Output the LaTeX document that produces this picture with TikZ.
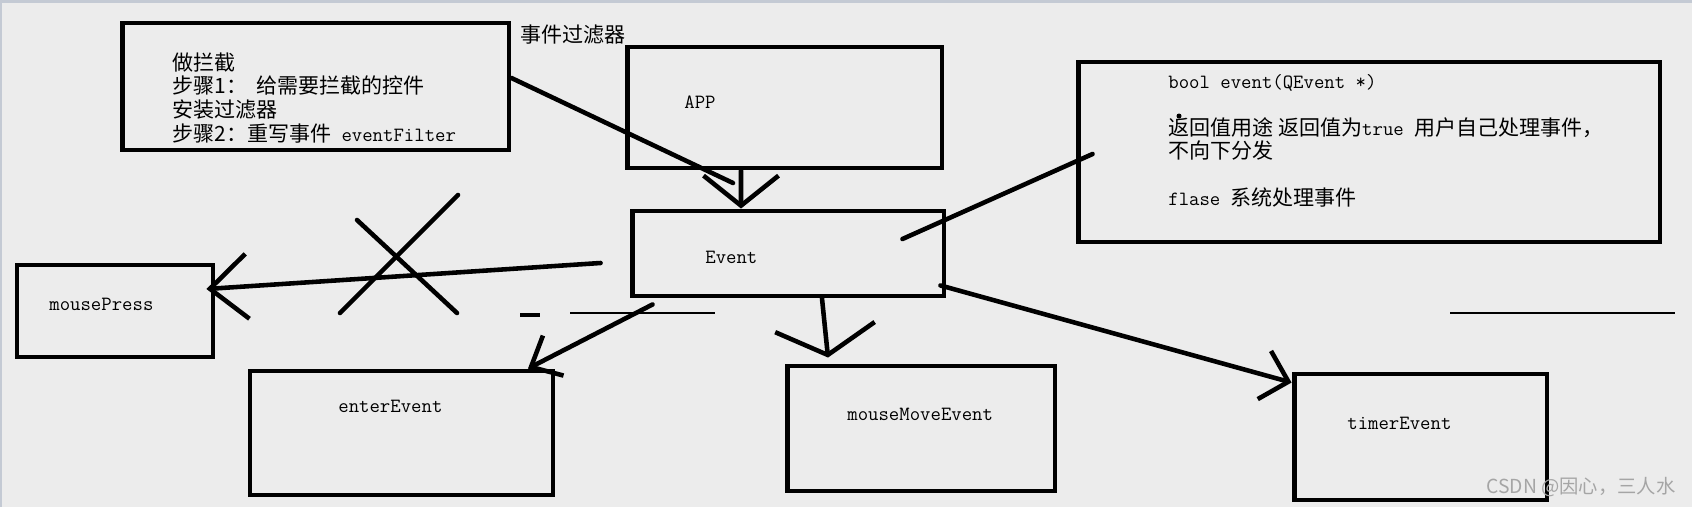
\documentclass[tikz,border=0pt]{standalone}
\usepackage{fontspec}
\newfontfamily\cjk[Scale=1.04]{Noto Sans CJK SC}
\newfontfamily\wmfont{Noto Sans CJK SC}
\usetikzlibrary{arrows.meta}
\definecolor{paper}{RGB}{236,236,236}
\definecolor{frame}{RGB}{196,202,212}
\definecolor{wmark}{RGB}{165,165,165}

\begin{document}
\begin{tikzpicture}[x=0.02cm,y=-0.02cm,
    box/.style={draw,line width=2.8pt,inner sep=0pt},
    pen/.style={line width=2.6pt,line cap=round},
    barb/.style 2 args={pen,-{Straight Barb[length=#1,width=#2]}},
    txt/.style={anchor=west,inner sep=0pt,font=\ttfamily\fontsize{11.5}{13}\selectfont}]
    \useasboundingbox (0,0) rectangle (1692,507);
    \fill[paper] (0,0) rectangle (1692,507);
    \fill[frame] (0,0) rectangle (1692,3);
    \fill[frame] (0,0) rectangle (2,507);

    \node[box,minimum width=7.74cm,minimum height=2.54cm] (filter) at (315.5,86.5) {};
    \node[box,minimum width=6.3cm,minimum height=2.42cm] (app) at (784.5,107.5) {};
    \node[box,minimum width=6.24cm,minimum height=1.7cm] (event) at (788,253.5) {};
    \node[box,minimum width=11.64cm,minimum height=3.6cm] (ret) at (1369,152) {};
    \node[box,minimum width=3.92cm,minimum height=1.84cm] (press) at (115,311) {};
    \node[box,minimum width=6.06cm,minimum height=2.48cm] (enter) at (401.5,433) {};
    \node[box,minimum width=5.36cm,minimum height=2.5cm] (move) at (921,428.5) {};
    \node[box,minimum width=5.06cm,minimum height=2.52cm] (timer) at (1420.5,437) {};

    \node[txt,anchor=north west,align=left,font=\ttfamily\fontsize{11.5}{13.6}\selectfont] (steps) at (172,52)
        {{\cjk 做拦截}\\{\cjk 步骤1：\ \ 给需要拦截的控件}\\{\cjk 安装过滤器}\\{\cjk 步骤2：重写事件} eventFilter};
    \node[txt,anchor=center] (fltlabel) at (573,35) {\cjk 事件过滤器};
    \node[txt] (applabel) at (684,102) {APP};
    \node[txt] (evlabel) at (705,257) {Event};
    \node[txt,anchor=north west,align=left,font=\ttfamily\fontsize{11.5}{13.3}\selectfont] (retlabel) at (1168,74)
        {bool event(QEvent *)\\[13.3pt]{\cjk 返回值用途 返回值为}true {\cjk 用户自己处理事件，}\\{\cjk 不向下分发}\\[13.3pt]flase {\cjk 系统处理事件}};
    \fill (1179,116) circle (2.5);
    \node[txt] (presslabel) at (49,304) {mousePress};
    \node[txt] (enterlabel) at (338,406) {enterEvent};
    \node[txt] (movelabel) at (847,414) {mouseMoveEvent};
    \node[txt] (timerlabel) at (1347,423) {timerEvent};
    \node[txt,text=wmark,font=\wmfont\fontsize{11}{13}\selectfont] (csdn) at (1486,487) {CSDN @因心，三人水};

    \coordinate (fltend) at (733,183);
    \draw[pen] ([yshift=0.17cm]filter.east) -- (fltend);
    \draw[barb={6mm}{15mm}] ([xshift=-0.87cm]app.south) -- ([xshift=-0.94cm]event.north);
    \draw[pen] ([xshift=0.34cm,yshift=-0.04cm]ret.west) -- ([xshift=-0.88cm,yshift=0.29cm]event.east);

    \draw[barb={7.5mm}{13mm}] ([xshift=-0.58cm,yshift=-0.19cm]event.west) -- ([xshift=-0.18cm,yshift=0.44cm]press.east);
    \draw[pen] (357,220) -- (457,313);
    \draw[pen] (458,195) -- (340,313);

    \draw[barb={5mm}{9mm}] ([xshift=0.46cm,yshift=-0.12cm]event.south west) -- ([xshift=2.53cm]enter.north);
    \draw[barb={5.6mm}{20mm}] ([xshift=0.68cm]event.south) -- ([xshift=-1.86cm,yshift=0.12cm]move.north);
    \draw[barb={5mm}{10mm}] ([xshift=-0.12cm,yshift=0.26cm]event.south east) -- ([yshift=-0.22cm]timer.north west);

    \draw[line width=2.2pt] (520,315) -- (540,315);
    \draw[line width=1.2pt] (570,313) -- (715,313);
    \draw[line width=1.6pt] (1450,313) -- (1675,313);
\end{tikzpicture}
\end{document}
